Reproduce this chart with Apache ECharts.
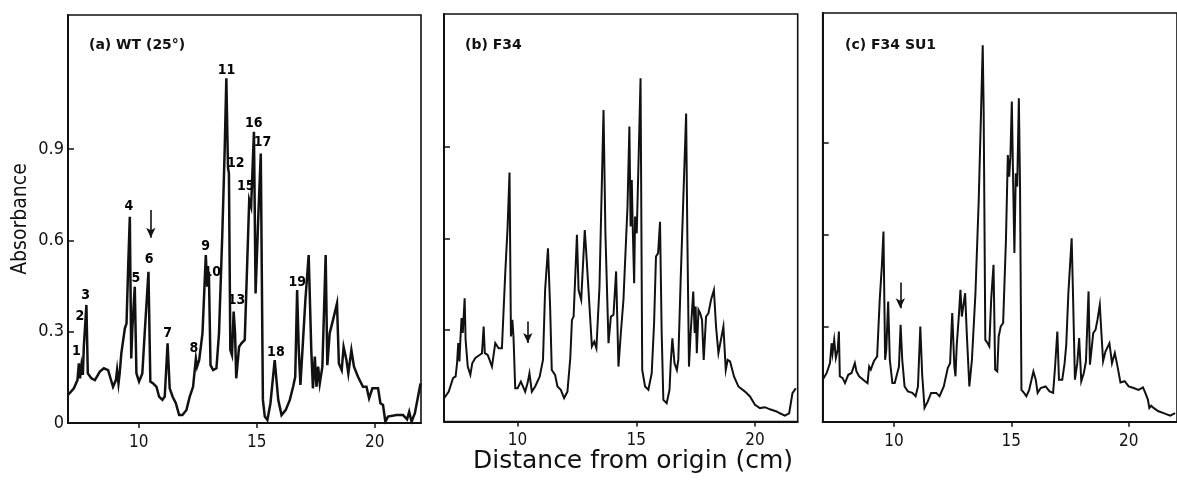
<!DOCTYPE html>
<html>
<head>
<meta charset="utf-8">
<script src="https://cdn.jsdelivr.net/npm/echarts@6/dist/echarts.min.js"></script>
<style>html,body{margin:0;padding:0;background:#fff;}#chart{width:1177px;height:484px;}</style>
</head>
<body>
<div id="chart"></div>
<script>
// ---- data (distance cm, absorbance) ----
const panelTitles = ['(a) WT (25°)', '(b) F34', '(c) F34 SU1'];
const xTickValues = [10, 15, 20];
const yTickValues = [0, 0.3, 0.6, 0.9];
const xAxisName = 'Distance from origin (cm)';
const yAxisName = 'Absorbance';

const traceA = [[7.00,0.092],[7.25,0.114],[7.40,0.141],[7.46,0.196],[7.51,0.147],[7.57,0.19],[7.63,0.158],[7.67,0.25],[7.78,0.388],[7.84,0.163],[7.99,0.147],[8.14,0.141],[8.35,0.169],[8.52,0.18],[8.70,0.174],[8.80,0.147],[8.91,0.119],[9.03,0.141],[9.08,0.174],[9.14,0.13],[9.19,0.163],[9.26,0.229],[9.41,0.311],[9.48,0.327],[9.55,0.514],[9.62,0.678],[9.68,0.212],[9.73,0.317],[9.83,0.448],[9.90,0.163],[10.01,0.136],[10.15,0.163],[10.25,0.295],[10.41,0.497],[10.49,0.136],[10.61,0.13],[10.75,0.119],[10.86,0.087],[11.00,0.076],[11.10,0.087],[11.22,0.262],[11.31,0.114],[11.43,0.087],[11.57,0.065],[11.71,0.026],[11.85,0.026],[12.02,0.043],[12.16,0.087],[12.30,0.119],[12.42,0.212],[12.47,0.185],[12.56,0.207],[12.70,0.295],[12.84,0.552],[12.90,0.448],[12.97,0.497],[13.04,0.19],[13.15,0.174],[13.29,0.18],[13.40,0.295],[13.54,0.623],[13.64,0.897],[13.71,1.133],[13.78,0.84],[13.82,0.82],[13.88,0.24],[13.95,0.223],[14.02,0.366],[14.08,0.295],[14.13,0.147],[14.25,0.25],[14.35,0.262],[14.49,0.273],[14.59,0.514],[14.68,0.733],[14.76,0.711],[14.88,0.957],[14.95,0.426],[15.08,0.711],[15.17,0.886],[15.26,0.076],[15.34,0.021],[15.45,0.01],[15.58,0.065],[15.76,0.207],[15.91,0.076],[16.05,0.026],[16.23,0.043],[16.40,0.076],[16.54,0.119],[16.63,0.152],[16.71,0.437],[16.78,0.24],[16.85,0.125],[16.92,0.125],[17.06,0.404],[17.20,0.552],[17.31,0.24],[17.38,0.114],[17.46,0.218],[17.53,0.119],[17.60,0.185],[17.67,0.13],[17.78,0.185],[17.92,0.552],[17.99,0.19],[18.09,0.295],[18.23,0.338],[18.40,0.393],[18.48,0.196],[18.60,0.174],[18.68,0.25],[18.80,0.207],[18.88,0.163],[19.01,0.24],[19.12,0.185],[19.29,0.152],[19.50,0.119],[19.65,0.119],[19.76,0.081],[19.90,0.114],[20.14,0.114],[20.24,0.065],[20.35,0.059],[20.45,0.004],[20.56,0.021],[20.92,0.026],[21.20,0.026],[21.37,0.012],[21.46,0.037],[21.56,0.004],[21.70,0.032],[21.94,0.13]];

const traceB = [[6.91,0.077],[7.10,0.098],[7.28,0.142],[7.39,0.148],[7.45,0.191],[7.50,0.257],[7.55,0.197],[7.59,0.268],[7.64,0.339],[7.69,0.29],[7.77,0.404],[7.81,0.268],[7.90,0.18],[8.01,0.153],[8.09,0.191],[8.22,0.208],[8.40,0.218],[8.50,0.224],[8.57,0.311],[8.62,0.224],[8.74,0.218],[8.82,0.202],[8.92,0.18],[9.06,0.257],[9.20,0.24],[9.34,0.24],[9.48,0.486],[9.58,0.639],[9.66,0.816],[9.72,0.279],[9.78,0.333],[9.83,0.273],[9.90,0.109],[10.00,0.109],[10.14,0.131],[10.32,0.098],[10.42,0.126],[10.50,0.158],[10.60,0.098],[10.74,0.115],[10.93,0.147],[11.07,0.202],[11.16,0.431],[11.28,0.568],[11.37,0.377],[11.44,0.169],[11.58,0.153],[11.68,0.115],[11.82,0.104],[11.96,0.077],[12.10,0.098],[12.22,0.208],[12.29,0.333],[12.36,0.344],[12.50,0.612],[12.57,0.431],[12.68,0.399],[12.83,0.628],[12.89,0.557],[12.96,0.557],[13.13,0.246],[13.23,0.262],[13.32,0.24],[13.45,0.442],[13.62,1.021],[13.70,0.617],[13.83,0.257],[13.93,0.344],[14.04,0.35],[14.15,0.492],[14.25,0.18],[14.35,0.29],[14.46,0.399],[14.53,0.404],[14.63,0.705],[14.71,0.967],[14.76,0.639],[14.81,0.792],[14.85,0.639],[14.91,0.453],[14.95,0.672],[15.02,0.617],[15.09,0.836],[15.18,1.125],[15.25,0.169],[15.37,0.115],[15.51,0.104],[15.65,0.158],[15.75,0.322],[15.83,0.541],[15.92,0.552],[16.00,0.655],[16.07,0.29],[16.14,0.071],[16.28,0.06],[16.40,0.104],[16.45,0.191],[16.52,0.273],[16.61,0.191],[16.71,0.169],[16.77,0.202],[16.87,0.464],[16.98,0.726],[17.10,1.01],[17.15,0.617],[17.22,0.18],[17.29,0.29],[17.40,0.426],[17.46,0.29],[17.50,0.377],[17.55,0.224],[17.62,0.366],[17.69,0.355],[17.77,0.333],[17.84,0.202],[17.94,0.344],[18.04,0.355],[18.15,0.399],[18.27,0.431],[18.36,0.311],[18.46,0.224],[18.53,0.229],[18.67,0.311],[18.77,0.169],[18.85,0.202],[18.95,0.197],[19.12,0.147],[19.30,0.115],[19.58,0.098],[19.79,0.082],[20.00,0.055],[20.21,0.044],[20.42,0.047],[20.63,0.04],[20.91,0.033],[21.05,0.027],[21.26,0.019],[21.44,0.027],[21.58,0.093],[21.72,0.109]];

const traceC = [[6.96,0.127],[7.13,0.149],[7.27,0.181],[7.34,0.246],[7.38,0.214],[7.45,0.257],[7.52,0.198],[7.60,0.225],[7.65,0.284],[7.69,0.138],[7.81,0.132],[7.91,0.116],[8.05,0.143],[8.19,0.149],[8.33,0.181],[8.40,0.154],[8.51,0.138],[8.61,0.132],[8.76,0.122],[8.87,0.116],[8.94,0.17],[9.01,0.16],[9.14,0.187],[9.28,0.203],[9.39,0.388],[9.48,0.496],[9.55,0.61],[9.62,0.192],[9.67,0.225],[9.75,0.382],[9.82,0.192],[9.93,0.116],[10.03,0.116],[10.14,0.149],[10.21,0.17],[10.28,0.306],[10.35,0.192],[10.45,0.105],[10.59,0.089],[10.78,0.084],[10.92,0.073],[11.02,0.105],[11.12,0.30],[11.20,0.143],[11.30,0.035],[11.44,0.056],[11.58,0.084],[11.80,0.084],[11.94,0.073],[12.12,0.105],[12.29,0.165],[12.39,0.181],[12.48,0.344],[12.57,0.17],[12.62,0.138],[12.67,0.236],[12.76,0.333],[12.83,0.42],[12.89,0.333],[12.96,0.333],[13.03,0.409],[13.10,0.279],[13.21,0.105],[13.32,0.192],[13.47,0.409],[13.61,0.713],[13.71,1.006],[13.78,1.218],[13.82,1.006],[13.86,0.583],[13.89,0.257],[13.99,0.246],[14.06,0.236],[14.14,0.388],[14.24,0.502],[14.31,0.16],[14.40,0.154],[14.46,0.268],[14.55,0.301],[14.65,0.312],[14.77,0.583],[14.85,0.86],[14.91,0.789],[14.96,0.854],[15.02,1.034],[15.08,0.757],[15.13,0.54],[15.19,0.80],[15.25,0.757],[15.32,1.045],[15.37,0.757],[15.43,0.094],[15.54,0.084],[15.64,0.073],[15.76,0.094],[15.84,0.10],[15.94,0.154],[16.04,0.127],[16.12,0.084],[16.25,0.10],[16.46,0.105],[16.63,0.089],[16.78,0.084],[16.86,0.165],[16.96,0.284],[17.03,0.127],[17.17,0.127],[17.27,0.181],[17.34,0.241],[17.43,0.409],[17.57,0.588],[17.62,0.431],[17.71,0.127],[17.81,0.181],[17.89,0.263],[17.98,0.122],[18.09,0.149],[18.18,0.187],[18.29,0.415],[18.35,0.176],[18.40,0.181],[18.49,0.279],[18.59,0.29],[18.67,0.322],[18.77,0.371],[18.83,0.29],[18.91,0.187],[19.01,0.219],[19.18,0.246],[19.29,0.181],[19.41,0.214],[19.51,0.176],[19.65,0.118],[19.83,0.122],[20.00,0.105],[20.21,0.10],[20.42,0.094],[20.61,0.102],[20.71,0.084],[20.82,0.062],[20.88,0.035],[20.96,0.042],[21.06,0.035],[21.27,0.024],[21.49,0.018],[21.77,0.01],[21.98,0.018]];

// peak numbers in panel (a): [label, distance, absorbance]
const peakLabels = [['1',7.36,0.234],['2',7.50,0.349],['3',7.75,0.421],['4',9.58,0.711],['5',9.88,0.476],['6',10.44,0.538],['7',11.22,0.295],['8',12.34,0.245],['9',12.83,0.582],['10',13.11,0.494],['11',13.72,1.16],['12',14.11,0.855],['13',14.14,0.404],['15',14.53,0.779],['16',14.87,0.985],['17',15.24,0.922],['18',15.81,0.231],['19',16.72,0.462]];
// arrows: [distance, top absorbance, tip absorbance]
const arrowMarks = [[10.51,0.70,0.609],[10.43,0.328,0.257],[10.27,0.444,0.36]];

// ---- layout ----
const INK = '#111';
const FONT = "'DejaVu Sans', sans-serif";
const FONT_C = "'DejaVu Sans Condensed', 'DejaVu Sans', sans-serif";
const grids = [
  {left: 68, top: 15, width: 353, height: 408},
  {left: 444, top: 14, width: 353.7, height: 407.5},
  {left: 822.7, top: 13, width: 356, height: 408.7}
];
const xRanges = [[7, 21.96], [6.9, 21.8], [6.96, 22.06]];
const yRanges = [[0, 1.341], [0, 1.336], [-0.01, 1.323]];
const lineWidths = [2.5, 2.0, 2.0];
const titlePos = [[89, 38], [465, 38], [845, 38]];
const traces = [traceA, traceB, traceC];

const chart = echarts.init(document.getElementById('chart'), null, {renderer: 'canvas'});
const option = {
  animation: false,
  backgroundColor: '#fff',
  title: panelTitles.map((t, i) => ({
    text: t, left: titlePos[i][0], top: titlePos[i][1], padding: 0,
    textStyle: {fontFamily: FONT, fontSize: 14, fontWeight: 'bold', color: INK}
  })),
  grid: grids.map(g => Object.assign({show: true, borderColor: INK, borderWidth: 1.6, backgroundColor: 'transparent', containLabel: false}, g)),
  xAxis: grids.map((g, i) => ({
    type: 'value', gridIndex: i, min: xRanges[i][0], max: xRanges[i][1],
    axisLine: {show: true, onZero: false, lineStyle: {color: INK, width: 2}},
    axisTick: {show: true, inside: false, length: 5, customValues: xTickValues, lineStyle: {color: INK, width: 1.5}},
    axisLabel: {show: true, customValues: xTickValues, margin: 11, fontSize: 17, fontFamily: FONT_C, color: INK},
    splitLine: {show: false}
  })),
  yAxis: grids.map((g, i) => ({
    type: 'value', gridIndex: i, min: yRanges[i][0], max: yRanges[i][1],
    axisLine: {show: true, onZero: false, lineStyle: {color: INK, width: 2}},
    axisTick: {show: true, inside: true, length: 6, customValues: yTickValues.slice(1), lineStyle: {color: INK, width: 1.5}},
    axisLabel: {show: i === 0, customValues: yTickValues, margin: 4, fontSize: 18, fontFamily: FONT_C, color: INK,
      formatter: v => (v === 0 ? '0' : v.toFixed(1))},
    splitLine: {show: false}
  })),
  graphic: [
    {type: 'text', x: 21, y: 219, rotation: Math.PI / 2,
      style: {text: yAxisName, fill: INK, font: "21px 'DejaVu Sans Condensed', 'DejaVu Sans', sans-serif", textAlign: 'center', textVerticalAlign: 'middle'}},
    {type: 'text', x: 633, y: 461,
      style: {text: xAxisName, fill: INK, font: "25px 'DejaVu Sans', sans-serif", textAlign: 'center', textVerticalAlign: 'middle'}}
  ],
  series: traces.map((tr, i) => ({
    type: 'line', xAxisIndex: i, yAxisIndex: i, data: tr, showSymbol: false, symbol: 'none',
    lineStyle: {color: INK, width: lineWidths[i], join: 'miter'}, clip: true, silent: true,
    markLine: {
      silent: true, symbol: ['none', 'arrow'], symbolSize: [7, 10], animation: false,
      lineStyle: {color: INK, width: 1.6, type: 'solid'}, label: {show: false},
      data: [[{coord: [arrowMarks[i][0], arrowMarks[i][1]]}, {coord: [arrowMarks[i][0], arrowMarks[i][2]]}]]
    }
  })).concat([{
    type: 'scatter', xAxisIndex: 0, yAxisIndex: 0, symbolSize: 1, silent: true,
    itemStyle: {color: 'rgba(255,255,255,0)', opacity: 1},
    data: peakLabels.map(p => ({name: p[0], value: [p[1], p[2]]})),
    label: {show: true, position: 'inside', formatter: '{b}', fontSize: 14, fontWeight: 'bold', fontFamily: FONT_C,
      color: '#000', opacity: 1, textBorderWidth: 0, textBorderColor: 'transparent'}
  }])
};
chart.setOption(option);
</script>
</body>
</html>
